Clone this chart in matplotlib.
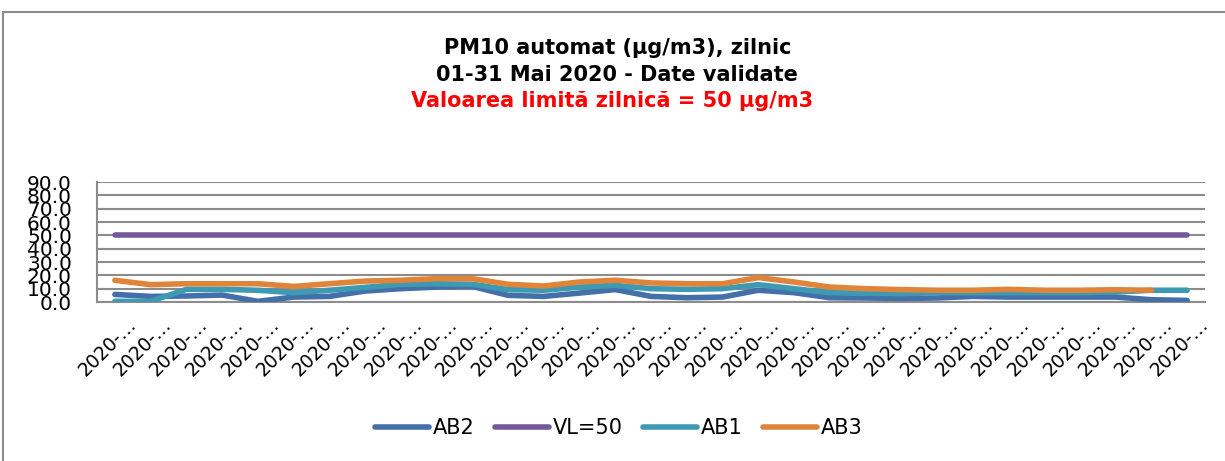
import numpy as np
import matplotlib
matplotlib.use('Agg')
from matplotlib import pyplot as plt
from matplotlib import transforms
from matplotlib.lines import Line2D

plt.rcParams['font.family'] = ['DejaVu Sans']

dates = ['2020-05-%02d' % d for d in range(1, 32)]
tick_labels = [d[:5] + '\u2026' for d in dates]

ab2 = [5.7, 4.2, 4.5, 5.2, 0.5, 3.7, 4.2, 8.2, 10.0, 11.2, 11.7, 5.0, 4.2, 6.7,
       9.3, 4.2, 3.2, 3.7, 8.8, 7.0, 3.2, 3.0, 2.7, 3.0, 4.2, 3.7, 3.7, 3.7,
       3.7, 1.7, 1.2]
vl = [50.0] * 31
ab1 = [0.5, 0.5, 9.5, 9.5, 8.8, 7.0, 8.8, 11.0, 13.3, 13.7, 13.3, 9.3, 8.8, 11.2,
       12.5, 10.0, 9.5, 10.0, 13.0, 10.0, 7.0, 6.7, 6.2, 7.0, 7.0, 7.0, 7.0, 7.0,
       7.5, 8.8, 8.8]
ab3 = [16.3, 13.0, 13.7, 13.7, 13.7, 11.7, 13.7, 15.7, 16.3, 17.5, 17.5, 13.3,
       12.0, 15.0, 16.3, 14.3, 13.7, 13.7, 18.3, 15.0, 11.2, 10.0, 9.3, 8.8, 8.8,
       9.5, 8.8, 8.8, 9.2, 8.8]

series = [('AB2', ab2, '#4470AA'), ('VL=50', vl, '#735A96'),
          ('AB1', ab1, '#3D9AB2'), ('AB3', ab3, '#E0843A')]

fig = plt.figure(figsize=(12.25, 4.61), dpi=100)
ax = fig.add_axes([97 / 1225, 1 - 302 / 461, 1108 / 1225, 120 / 461])

x = np.arange(31)
for name, vals, col in series:
    ax.plot(x[:len(vals)], vals, color=col, lw=4, label=name,
            solid_capstyle='round', solid_joinstyle='round', zorder=3)

ax.set_xlim(-0.5, 30.5)
ax.set_ylim(0, 90)
ax.set_yticks(np.arange(0, 91, 10))
ax.set_yticklabels(['%.1f' % v for v in np.arange(0, 91, 10)], fontsize=14.5)
ax.yaxis.grid(True, color='#8C8C8C', lw=1.5, zorder=1)
ax.tick_params(axis='y', length=0, pad=18)
ax.tick_params(axis='x', length=0, pad=14)
ax.set_xticks(x)
ax.set_xticklabels(tick_labels, rotation=45, ha='right', rotation_mode='anchor',
                   va='center', fontsize=13.5)
shift = transforms.ScaledTranslation(0.18, 0, fig.dpi_scale_trans)
for lab in ax.get_xticklabels():
    lab.set_transform(lab.get_transform() + shift)

for s in ['top', 'right']:
    ax.spines[s].set_visible(False)
for s in ['left', 'bottom']:
    ax.spines[s].set_color('#8C8C8C')
    ax.spines[s].set_linewidth(1.5)

fig.text(0.504, 1 - 48 / 461, 'PM10 automat (\u00b5g/m3), zilnic', ha='center',
         va='center', fontsize=15, fontweight='bold')
fig.text(0.504, 1 - 75 / 461, '01-31 Mai 2020 - Date validate', ha='center',
         va='center', fontsize=15, fontweight='bold')
fig.text(0.5, 1 - 101 / 461, 'Valoarea limit\u0103 zilnic\u0103 = 50 \u00b5g/m3',
         ha='center', va='center', fontsize=15, fontweight='bold', color='red')

fig.legend(loc='center', bbox_to_anchor=(0.505, 1 - 428 / 461), ncol=4,
           frameon=False, fontsize=15, handlelength=2.6, handletextpad=0.15,
           columnspacing=1.0)

fig.add_artist(Line2D([3 / 1225, 1], [1 - 12 / 461, 1 - 12 / 461],
                      transform=fig.transFigure, color='#8C8C8C', lw=1.5))
fig.add_artist(Line2D([3 / 1225, 3 / 1225], [0, 1 - 12 / 461],
                      transform=fig.transFigure, color='#8C8C8C', lw=1.5))

fig.savefig('out.png', dpi=100)
